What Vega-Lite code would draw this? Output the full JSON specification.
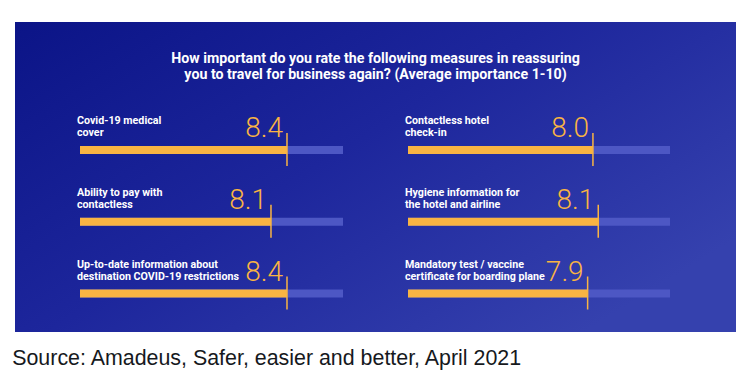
{
  "$schema": "https://vega.github.io/schema/vega-lite/v6.json",
  "width": 721,
  "height": 310,
  "autosize": {"type": "none"},
  "padding": {"left": 15, "top": 22, "right": 16, "bottom": 52},
  "background": "#ffffff",
  "config": {
    "view": {
      "stroke": null,
      "fill": {
        "gradient": "linear",
        "x1": 0, "y1": 0, "x2": 1, "y2": 0.7,
        "stops": [
          {"offset": 0, "color": "#0b1487"},
          {"offset": 0.5, "color": "#1d269c"},
          {"offset": 1, "color": "#3541ae"}
        ]
      }
    }
  },
  "title": {
    "text": [
      "How important do you rate the following measures in reassuring",
      "you to travel for business again? (Average importance 1-10)"
    ],
    "font": "Roboto",
    "fontSize": 14.2,
    "fontWeight": "bold",
    "color": "#ffffff",
    "anchor": "middle",
    "frame": "group",
    "baseline": "alphabetic",
    "lineHeight": 16.5,
    "offset": -71.6
  },
  "data": {
    "values": [
      {"col": "L", "row": 1, "label": "Covid-19 medical\ncover", "value": 8.4},
      {"col": "L", "row": 2, "label": "Ability to pay with\ncontactless", "value": 8.1},
      {"col": "L", "row": 3, "label": "Up-to-date information about\ndestination COVID-19 restrictions", "value": 8.4},
      {"col": "R", "row": 1, "label": "Contactless hotel\ncheck-in", "value": 8.0},
      {"col": "R", "row": 2, "label": "Hygiene information for\nthe hotel and airline", "value": 8.1},
      {"col": "R", "row": 3, "label": "Mandatory test / vaccine\ncertificate for boarding plane", "value": 7.9}
    ]
  },
  "encoding": {
    "y": {"field": "row", "type": "ordinal", "scale": {"type": "point", "padding": 0, "range": [128, 271.5]}, "axis": null}
  },
  "resolve": {"scale": {"x": "independent"}, "axis": {"x": "independent"}},
  "layer": [
    {
      "transform": [{"filter": "datum.col == 'L'"}],
      "layer": [
        {
          "mark": {"type": "rule", "color": "#4d57c4", "strokeWidth": 8},
          "encoding": {
            "x": {"datum": 4.52, "type": "quantitative", "scale": {"domain": [4.52, 9.45], "range": [65, 328]},
              "axis": {"labels": false, "ticks": false, "domain": false, "grid": false,
                "title": "Source: Amadeus, Safer, easier and better, April 2021",
                "titleFont": "Liberation Sans", "titleFontSize": 21.4, "titleFontWeight": "normal",
                "titleColor": "#16191d", "titleAlign": "left", "titleAnchor": "start",
                "titleBaseline": "alphabetic", "titleX": -3.3, "titleY": 32.5}},
            "x2": {"datum": 9.45}
          }
        },
        {
          "mark": {"type": "rule", "color": "#f9b443", "strokeWidth": 8},
          "encoding": {
            "x": {"field": "value", "type": "quantitative", "scale": {"domain": [4.52, 9.45], "range": [65, 328]}},
            "x2": {"datum": 4.52}
          }
        },
        {
          "mark": {"type": "tick", "color": "#f9b443", "size": 33, "thickness": 1.5, "yOffset": -0.5, "opacity": 1},
          "encoding": {
            "x": {"field": "value", "type": "quantitative", "scale": {"domain": [4.52, 9.45], "range": [65, 328]}}
          }
        },
        {
          "mark": {"type": "text", "align": "right", "baseline": "alphabetic", "dx": -4, "dy": -13,
            "font": "Roboto", "fontSize": 28, "fontWeight": 300, "color": "#f9b443"},
          "encoding": {
            "x": {"field": "value", "type": "quantitative", "scale": {"domain": [4.52, 9.45], "range": [65, 328]}},
            "text": {"field": "value", "type": "quantitative", "format": ".1f"}
          }
        },
        {
          "mark": {"type": "text", "align": "left", "baseline": "alphabetic", "dx": -3, "dy": -26,
            "lineBreak": "\n", "lineHeight": 12,
            "font": "Roboto", "fontSize": 10.7, "fontWeight": "bold", "color": "#ffffff"},
          "encoding": {
            "x": {"datum": 4.52, "type": "quantitative", "scale": {"domain": [4.52, 9.45], "range": [65, 328]}},
            "text": {"field": "label"}
          }
        }
      ]
    },
    {
      "transform": [{"filter": "datum.col == 'R'"}],
      "layer": [
        {
          "mark": {"type": "rule", "color": "#4d57c4", "strokeWidth": 8},
          "encoding": {
            "x": {"datum": 4.52, "type": "quantitative", "scale": {"domain": [4.52, 9.45], "range": [393, 655]}, "axis": null},
            "x2": {"datum": 9.45}
          }
        },
        {
          "mark": {"type": "rule", "color": "#f9b443", "strokeWidth": 8},
          "encoding": {
            "x": {"field": "value", "type": "quantitative", "scale": {"domain": [4.52, 9.45], "range": [393, 655]}, "axis": null},
            "x2": {"datum": 4.52}
          }
        },
        {
          "mark": {"type": "tick", "color": "#f9b443", "size": 33, "thickness": 1.5, "yOffset": -0.5, "opacity": 1},
          "encoding": {
            "x": {"field": "value", "type": "quantitative", "scale": {"domain": [4.52, 9.45], "range": [393, 655]}, "axis": null}
          }
        },
        {
          "mark": {"type": "text", "align": "right", "baseline": "alphabetic", "dx": -4, "dy": -13,
            "font": "Roboto", "fontSize": 28, "fontWeight": 300, "color": "#f9b443"},
          "encoding": {
            "x": {"field": "value", "type": "quantitative", "scale": {"domain": [4.52, 9.45], "range": [393, 655]}, "axis": null},
            "text": {"field": "value", "type": "quantitative", "format": ".1f"}
          }
        },
        {
          "mark": {"type": "text", "align": "left", "baseline": "alphabetic", "dx": -3, "dy": -26,
            "lineBreak": "\n", "lineHeight": 12,
            "font": "Roboto", "fontSize": 10.7, "fontWeight": "bold", "color": "#ffffff"},
          "encoding": {
            "x": {"datum": 4.52, "type": "quantitative", "scale": {"domain": [4.52, 9.45], "range": [393, 655]}, "axis": null},
            "text": {"field": "label"}
          }
        }
      ]
    }
  ]
}
